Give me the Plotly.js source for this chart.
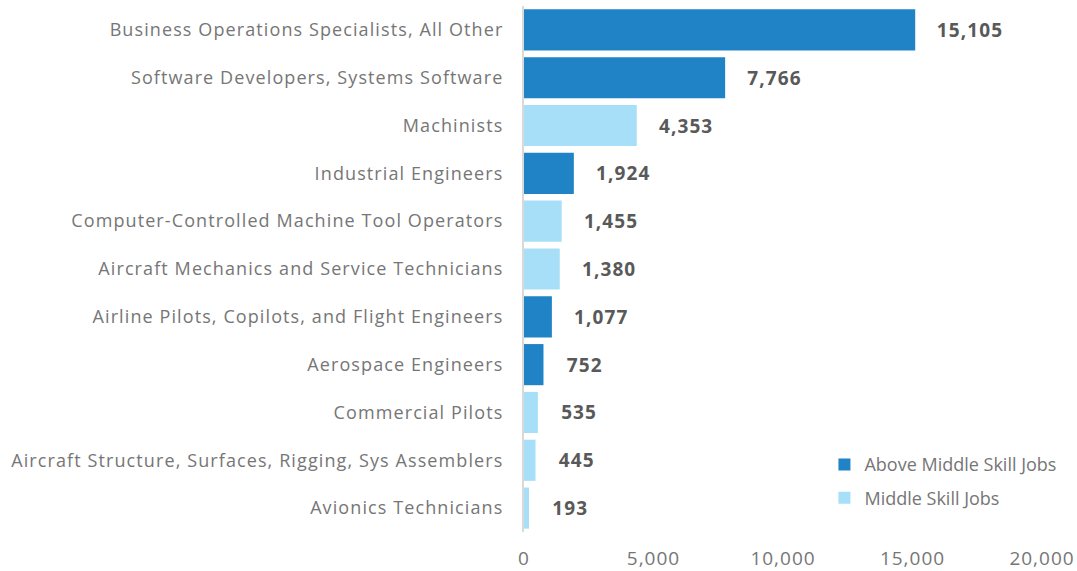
<!DOCTYPE html>
<html>
<head>
<meta charset="utf-8">
<script src="https://cdn.plot.ly/plotly-3.0.1.min.js"></script>
<style>
html,body{margin:0;padding:0;background:#fff;}
#chart{width:1077px;height:571px;}
#chart .ytick text{letter-spacing:1.1px;}
#chart .xtick text{letter-spacing:1px;}
#chart .bartext{letter-spacing:1.1px;}
</style>
</head>
<body>
<div id="chart"></div>
<script>
const categories = [
  "Business Operations Specialists, All Other",
  "Software Developers, Systems Software",
  "Machinists",
  "Industrial Engineers",
  "Computer-Controlled Machine Tool Operators",
  "Aircraft Mechanics and Service Technicians",
  "Airline Pilots, Copilots, and Flight Engineers",
  "Aerospace Engineers",
  "Commercial Pilots",
  "Aircraft Structure, Surfaces, Rigging, Sys Assemblers",
  "Avionics Technicians"
];
const aboveMiddle = [15105, 7766, null, 1924, null, null, 1077, 752, null, null, null];
const middle = [null, null, 4353, null, 1455, 1380, null, null, 535, 445, 193];
const seriesNames = ["Above Middle Skill Jobs", "Middle Skill Jobs"];
const xTicks = [0, 5000, 10000, 15000, 20000];
const xTickText = ["0", "5,000", "10,000", "15,000", "20,000"];

const FONT = "'Open Sans', sans-serif";
const pad = "\u00a0\u00a0\u00a0\u00a0";
function mk(vals, name, color, grp) {
  return {
    type: "bar", orientation: "h", y: categories, x: vals, name: name, legendgroup: grp,
    marker: {color: color},
    texttemplate: pad + "%{x:,}", textposition: "outside", cliponaxis: false,
    textfont: {family: FONT, size: 19, color: "#595959", weight: "bold"},
    hoverinfo: "skip"
  };
}
const data = [
  mk(aboveMiddle, seriesNames[0], "#1F83C6", "a"),
  mk(middle, seriesNames[1], "#A6DFF7", "b")
];
const layout = {
  width: 1077, height: 571,
  margin: {l: 524, r: 35, t: 6, b: 39},
  paper_bgcolor: "#fff", plot_bgcolor: "#fff",
  barmode: "overlay", bargap: 0.14,
  font: {family: FONT, color: "#767676"},
  showlegend: true,
  legend: {x: 0.58, y: 0.163, xanchor: "left", yanchor: "top", traceorder: "grouped", tracegroupgap: 7,
           font: {family: FONT, size: 18, color: "#767676"}, bgcolor: "rgba(0,0,0,0)"},
  xaxis: {range: [0, 20000], tickvals: xTicks, ticktext: xTickText, showgrid: false, zeroline: false,
          showline: false, ticks: "outside", ticklen: 9, tickcolor: "rgba(0,0,0,0)",
          tickfont: {family: FONT, size: 19, color: "#767676"}, fixedrange: true},
  yaxis: {autorange: "reversed", showgrid: false, zeroline: false, showline: true,
          linecolor: "#D9D9D9", linewidth: 2, ticks: "outside", ticklen: 15, tickcolor: "rgba(0,0,0,0)",
          tickfont: {family: FONT, size: 18, color: "#767676"}, fixedrange: true}
};
Plotly.newPlot("chart", data, layout, {displayModeBar: false, staticPlot: true});
</script>
</body>
</html>
